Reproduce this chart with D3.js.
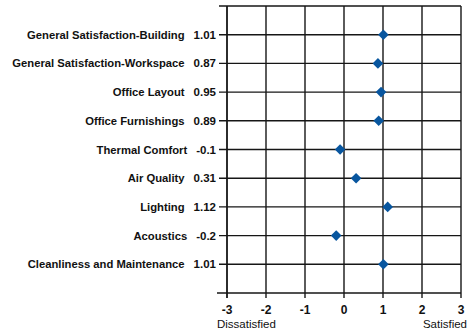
<!DOCTYPE html>
<html>
<head>
<meta charset="utf-8">
<script src="https://cdn.jsdelivr.net/npm/d3@7"></script>
<style>
  html, body { margin: 0; padding: 0; background: #fff; }
  svg { display: block; }
  text { font-family: "Liberation Sans", Arial, sans-serif; fill: #111; }
</style>
</head>
<body>
<svg id="chart" width="475" height="335"></svg>
<script>
// Satisfaction survey: mean score per category on a -3..3 scale
const categories = [
  "General Satisfaction-Building",
  "General Satisfaction-Workspace",
  "Office Layout",
  "Office Furnishings",
  "Thermal Comfort",
  "Air Quality",
  "Lighting",
  "Acoustics",
  "Cleanliness and Maintenance"
];
const scores = [1.01, 0.87, 0.95, 0.89, -0.1, 0.31, 1.12, -0.2, 1.01];
const xTicks = [-3, -2, -1, 0, 1, 2, 3];
const endLabels = ["Dissatisfied", "Satisfied"];

const svg = d3.select("#chart");
const plotLeft = 227, plotRight = 461, plotTop = 6, plotBottom = 293;

const x = d3.scaleLinear().domain([-3, 3]).range([plotLeft, plotRight]);
// one empty slot above and below the category rows
const y = d3.scaleLinear().domain([0, categories.length + 1]).range([plotTop, plotBottom]);
const rowLines = d3.range(0, categories.length + 2);

const lineColor = "#161616";

// horizontal lines (with small ticks left of the axis)
svg.append("g").selectAll("line")
  .data(rowLines)
  .join("line")
  .attr("x1", d => (d === categories.length + 1 ? plotLeft - 10 : plotLeft - 8))
  .attr("x2", plotRight)
  .attr("y1", d => y(d)).attr("y2", d => y(d))
  .attr("stroke", lineColor).attr("stroke-width", 1.4);

// vertical grid lines with ticks below the plot
svg.append("g").selectAll("line")
  .data(xTicks)
  .join("line")
  .attr("x1", d => x(d)).attr("x2", d => x(d))
  .attr("y1", plotTop).attr("y2", plotBottom + 5)
  .attr("stroke", lineColor)
  .attr("stroke-width", d => (d === -3 ? 1.8 : 1.4));

// x tick labels
svg.append("g").selectAll("text")
  .data(xTicks)
  .join("text")
  .attr("x", d => x(d))
  .attr("y", 314)
  .attr("text-anchor", "middle")
  .attr("font-size", 12)
  .attr("font-weight", "bold")
  .text(d => d);

// scale end labels
svg.append("text")
  .attr("x", 217).attr("y", 328)
  .attr("font-size", 11.5)
  .text(endLabels[0]);
svg.append("text")
  .attr("x", 467).attr("y", 328)
  .attr("text-anchor", "end")
  .attr("font-size", 11.5)
  .text(endLabels[1]);

// category rows: score right-aligned next to the axis, name to its left
const rows = svg.append("g").selectAll("g")
  .data(categories)
  .join("g")
  .attr("transform", (d, i) => `translate(0,${y(i + 1) + 4})`)
  .attr("font-weight", "bold");

rows.append("text")
  .attr("class", "score")
  .attr("x", 216)
  .attr("text-anchor", "end")
  .attr("font-size", 11.5)
  .text((d, i) => scores[i]);

rows.append("text")
  .attr("x", function () {
    const s = this.parentNode.querySelector(".score");
    return 216 - s.getComputedTextLength() - 9;
  })
  .attr("text-anchor", "end")
  .attr("font-size", 11.25)
  .text(d => d);

// diamond markers
const diamond = d3.symbol().type(d3.symbolDiamond2).size(72);
svg.append("g").selectAll("path")
  .data(scores)
  .join("path")
  .attr("d", diamond)
  .attr("transform", (d, i) => `translate(${x(d)},${y(i + 1)})`)
  .attr("fill", "#08569f");
</script>
</body>
</html>
